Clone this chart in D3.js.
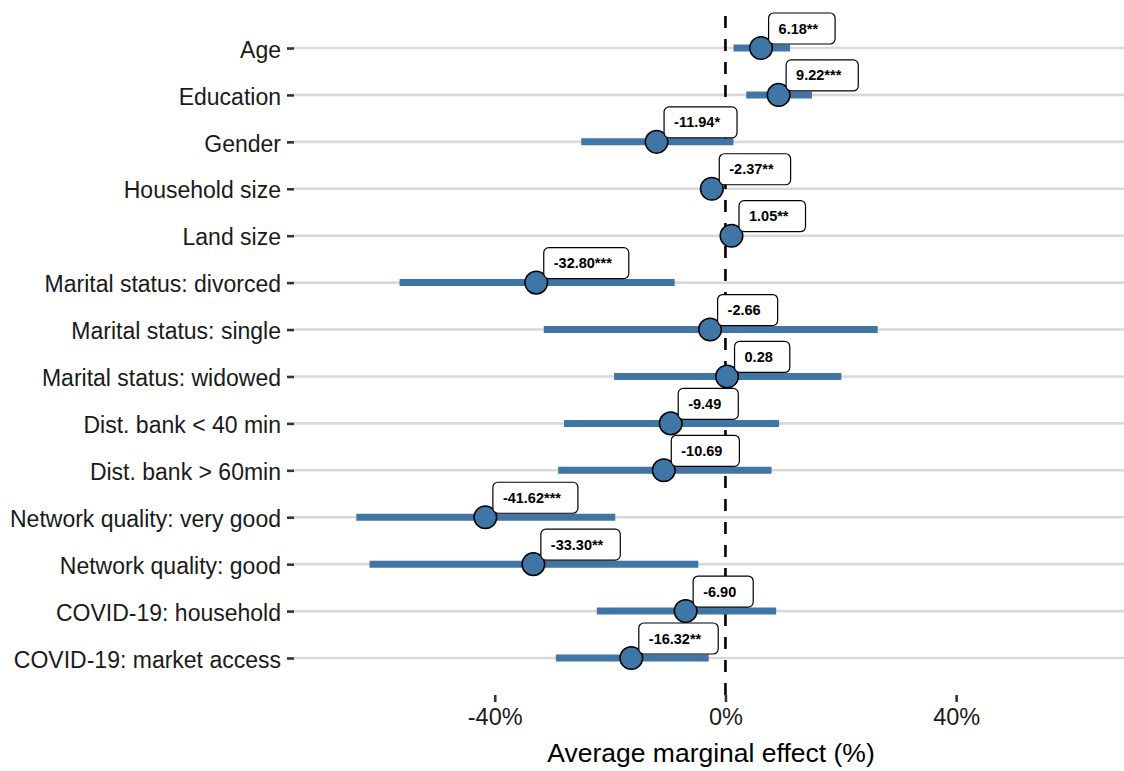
<!DOCTYPE html>
<html>
<head>
<meta charset="utf-8">
<script src="https://cdn.jsdelivr.net/npm/d3@7"></script>
<style>
  body { margin: 0; background: #fff; }
  text { font-family: "Liberation Sans", Arial, sans-serif; }
</style>
</head>
<body>
<div id="chart"></div>
<script>
// predictors, top to bottom
const categories = [
  "Age", "Education", "Gender", "Household size", "Land size",
  "Marital status: divorced", "Marital status: single", "Marital status: widowed",
  "Dist. bank < 40 min", "Dist. bank > 60min",
  "Network quality: very good", "Network quality: good",
  "COVID-19: household", "COVID-19: market access"
];
// average marginal effects (%)
const estimates = [6.18, 9.22, -11.94, -2.37, 1.05, -32.80, -2.66, 0.28, -9.49, -10.69, -41.62, -33.30, -6.90, -16.32];
// confidence interval bounds (%)
const lower = [1.4, 3.6, -25.0, -4.4, 0.5, -56.5, -31.5, -19.3, -28.0, -29.0, -64.0, -61.7, -22.3, -29.4];
const upper = [11.2, 15.0, 1.4, -0.3, 1.6, -8.8, 26.4, 20.1, 9.3, 8.0, -19.1, -4.7, 8.8, -2.9];
const labels = ["6.18**", "9.22***", "-11.94*", "-2.37**", "1.05**", "-32.80***", "-2.66", "0.28",
  "-9.49", "-10.69", "-41.62***", "-33.30**", "-6.90", "-16.32**"];
const xTicks = [-40, 0, 40];

const width = 1124, height = 771;
const panel = {left: 294, right: 1124, top: 11, bottom: 695};
const blue = "#3f76a6";

const svg = d3.select("#chart").append("svg")
  .attr("width", width)
  .attr("height", height);

const x = d3.scaleLinear()
  .domain([-74.8, 69.1])
  .range([panel.left, panel.right]);

const y = d3.scalePoint()
  .domain(categories)
  .range([48, 658]);

// grid lines
svg.append("g").selectAll("line")
  .data(categories)
  .join("line")
    .attr("x1", panel.left).attr("x2", panel.right)
    .attr("y1", d => y(d)).attr("y2", d => y(d))
    .attr("stroke", "#d9d9d9")
    .attr("stroke-width", 2.6);

// y axis
let yaxis = svg.append("g")
  .attr("transform", "translate(" + panel.left + ",0)")
  .call(d3.axisLeft(y).tickSize(7).tickPadding(6));
yaxis.select(".domain").remove();
yaxis.selectAll(".tick line").attr("stroke", "#333").attr("stroke-width", 2.6);
yaxis.selectAll(".tick text")
  .attr("font-size", 23)
  .attr("dy", "0.4em")
  .attr("fill", "#1a1a1a")
  .style("font-family", "Liberation Sans, Arial, sans-serif");

// x axis
let xaxis = svg.append("g")
  .attr("transform", "translate(0," + panel.bottom + ")")
  .call(d3.axisBottom(x).tickValues(xTicks).tickSize(7).tickPadding(6).tickFormat(d => d + "%"));
xaxis.select(".domain").remove();
xaxis.selectAll(".tick line").attr("stroke", "#333").attr("stroke-width", 2.6);
xaxis.selectAll(".tick text")
  .attr("font-size", 23.5)
  .attr("fill", "#1a1a1a")
  .style("font-family", "Liberation Sans, Arial, sans-serif");

svg.append("text")
  .attr("x", (panel.left + panel.right) / 2 + 2)
  .attr("y", 762)
  .attr("text-anchor", "middle")
  .attr("font-size", 26.5)
  .attr("fill", "#000")
  .text("Average marginal effect (%)");

// zero reference line
svg.append("line")
  .attr("x1", x(0)).attr("x2", x(0))
  .attr("y1", panel.bottom).attr("y2", panel.top)
  .attr("stroke", "#000")
  .attr("stroke-width", 2.6)
  .attr("stroke-dasharray", "12,11");

// confidence bars
svg.append("g").selectAll("line")
  .data(categories)
  .join("line")
    .attr("x1", (d, i) => x(lower[i]))
    .attr("x2", (d, i) => x(upper[i]))
    .attr("y1", d => y(d)).attr("y2", d => y(d))
    .attr("stroke", blue)
    .attr("stroke-width", 7);

// points
svg.append("g").selectAll("circle")
  .data(categories)
  .join("circle")
    .attr("cx", (d, i) => x(estimates[i]))
    .attr("cy", d => y(d))
    .attr("r", 11.3)
    .attr("fill", blue)
    .attr("stroke", "#000")
    .attr("stroke-width", 1.5);

// labels
const lab = svg.append("g").selectAll("g")
  .data(categories)
  .join("g")
    .attr("transform", (d, i) => "translate(" + (x(estimates[i]) + 7.5) + "," + (y(d) - 4) + ")");

lab.append("rect");
lab.append("text")
  .attr("x", 10)
  .attr("y", -10.5)
  .attr("font-size", 14.5)
  .attr("font-weight", "bold")
  .attr("fill", "#000")
  .text((d, i) => labels[i]);

lab.each(function() {
  const g = d3.select(this);
  const w = g.select("text").node().getComputedTextLength();
  g.select("rect")
    .attr("x", 0).attr("y", -31)
    .attr("width", w + 27).attr("height", 31)
    .attr("rx", 5).attr("ry", 5)
    .attr("fill", "#fff")
    .attr("stroke", "#000")
    .attr("stroke-width", 1.2);
});
</script>
</body>
</html>
